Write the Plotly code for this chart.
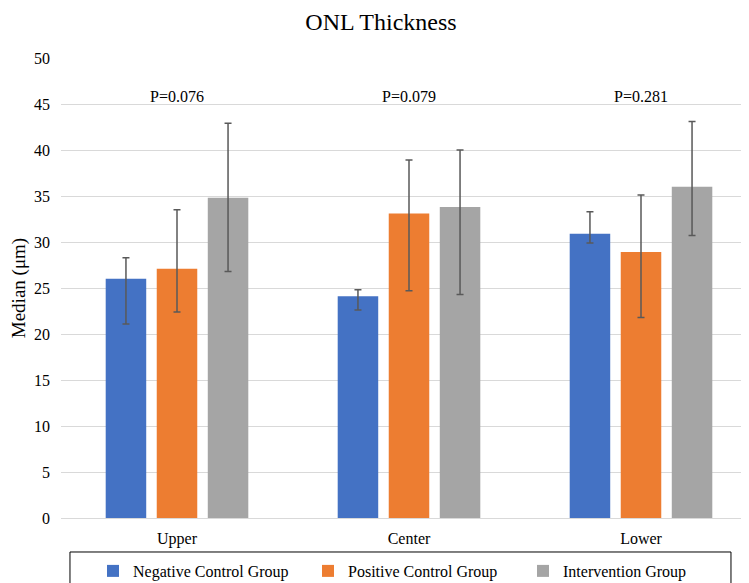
import plotly.graph_objects as go

categories = ["Upper", "Center", "Lower"]
series_names = ["Negative Control Group", "Positive Control Group", "Intervention Group"]
colors = ["#4472C4", "#ED7D31", "#A5A5A5"]

neg_median = [26.0, 24.1, 30.9]
neg_upper = [28.3, 24.8, 33.3]
neg_lower = [21.1, 22.6, 29.9]

pos_median = [27.1, 33.1, 28.9]
pos_upper = [33.5, 38.9, 35.1]
pos_lower = [22.4, 24.7, 21.8]

int_median = [34.8, 33.8, 36.0]
int_upper = [42.9, 40.0, 43.1]
int_lower = [26.8, 24.3, 30.7]

p_values = ["P=0.076", "P=0.079", "P=0.281"]

FONT = "Liberation Serif, Times New Roman, serif"

fig = go.Figure()
for name, color, med, up, lo in zip(
    series_names, colors,
    [neg_median, pos_median, int_median],
    [neg_upper, pos_upper, int_upper],
    [neg_lower, pos_lower, int_lower],
):
    fig.add_trace(go.Bar(
        x=categories, y=med, name=name,
        marker=dict(color=color, line=dict(width=0)),
        error_y=dict(
            type="data", symmetric=False,
            array=[u - m for u, m in zip(up, med)],
            arrayminus=[m - l for l, m in zip(lo, med)],
            color="#595959", thickness=1.5, width=3.5,
        ),
    ))

for cat, p in zip(categories, p_values):
    fig.add_annotation(x=cat, y=45.8, text=p, showarrow=False, yanchor="middle",
                       font=dict(family=FONT, size=16, color="black"))

# legend frame (Excel-style wide box)
fig.add_shape(type="rect", xref="paper", yref="paper",
              x0=0.0129, x1=0.9626, y0=-0.0739, y1=-0.1565,
              line=dict(color="black", width=1), fillcolor="rgba(0,0,0,0)")

fig.update_layout(
    width=749, height=583,
    margin=dict(l=53, r=0, t=50, b=73),
    paper_bgcolor="white", plot_bgcolor="white",
    title=dict(text="ONL Thickness", x=373 / 749, xanchor="center", y=1 - 14 / 583, yanchor="middle",
               font=dict(family=FONT, size=24, color="black")),
    barmode="group", bargap=0.34, bargroupgap=0.206,
    font=dict(family=FONT, size=16, color="black"),
    xaxis=dict(showgrid=False, showline=True, linecolor="#D9D9D9", linewidth=1,
               tickfont=dict(family=FONT, size=16), ticks="", ticklabelstandoff=6),
    yaxis=dict(range=[0, 50], dtick=5, showgrid=True, gridcolor="#D9D9D9", gridwidth=1,
               zeroline=False, showline=False, ticks="", ticklabelstandoff=10,
               tickfont=dict(family=FONT, size=16),
               title=dict(text="Median (μm)", font=dict(family=FONT, size=19), standoff=5)),
    legend=dict(orientation="h", x=0.046, xanchor="left", y=-0.1152, yanchor="middle",
                borderwidth=0, bgcolor="rgba(0,0,0,0)",
                font=dict(family=FONT, size=16), entrywidth=170, itemwidth=30,
                traceorder="normal"),
    showlegend=True,
)

fig.write_html("out.html")
